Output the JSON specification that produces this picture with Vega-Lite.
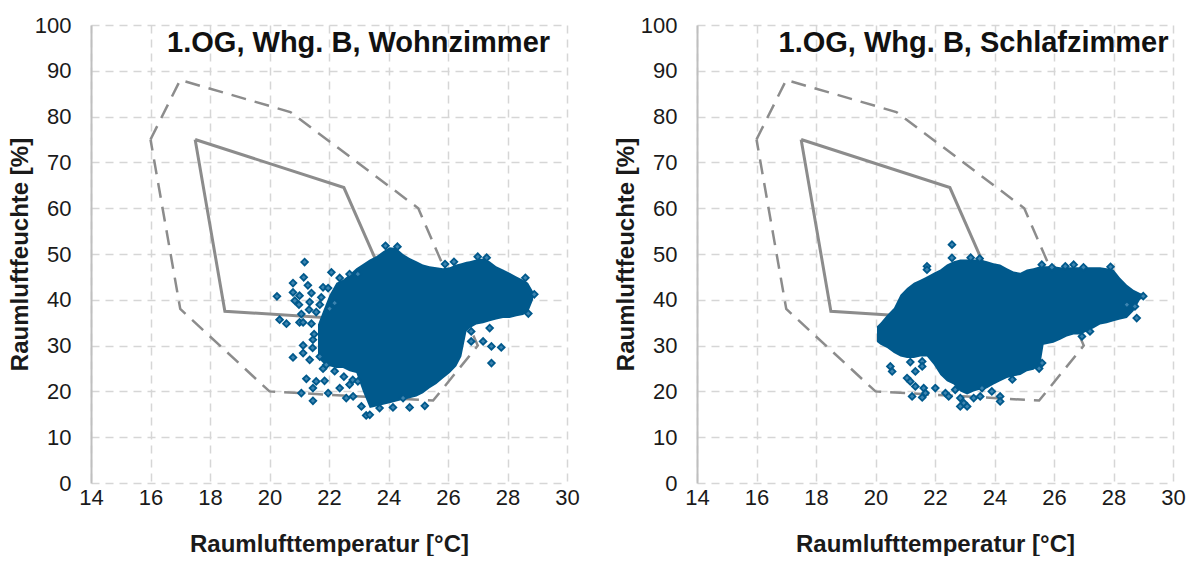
{
  "$schema": "https://vega.github.io/schema/vega-lite/v6.json",
  "padding": {"left": 8, "top": 14, "right": 5, "bottom": 0},
  "spacing": 34,
  "config": {
    "font": "Liberation Sans",
    "view": {"stroke": null},
    "axis": {
      "grid": true,
      "gridColor": "#d6d6d6",
      "gridDash": [8, 6],
      "gridWidth": 1.5,
      "ticks": false,
      "labelFlush": false,
      "labelFont": "Liberation Sans",
      "labelFontSize": 22,
      "labelColor": "#1a1a1a",
      "titleFont": "Liberation Sans",
      "titleFontSize": 24,
      "titleFontWeight": "bold",
      "titleColor": "#1a1a1a"
    },
    "axisX": {"domain": false, "labelPadding": 4, "titlePadding": 24},
    "axisY": {"domain": true, "domainColor": "#bfbfbf", "domainWidth": 2, "labelPadding": 20, "titlePadding": 2}
  },
  "datasets": {
    "zonen": [
      {"zone": "noch behaglich", "i": 0, "t": 16, "h": 75},
      {"zone": "noch behaglich", "i": 1, "t": 17, "h": 88},
      {"zone": "noch behaglich", "i": 2, "t": 20.7, "h": 81},
      {"zone": "noch behaglich", "i": 3, "t": 25, "h": 60},
      {"zone": "noch behaglich", "i": 4, "t": 27, "h": 30},
      {"zone": "noch behaglich", "i": 5, "t": 25.5, "h": 18},
      {"zone": "noch behaglich", "i": 6, "t": 20, "h": 20},
      {"zone": "noch behaglich", "i": 7, "t": 17, "h": 38},
      {"zone": "noch behaglich", "i": 8, "t": 16, "h": 75},
      {"zone": "behaglich", "i": 0, "t": 17.5, "h": 75},
      {"zone": "behaglich", "i": 1, "t": 22.5, "h": 64.5},
      {"zone": "behaglich", "i": 2, "t": 24.5, "h": 35},
      {"zone": "behaglich", "i": 3, "t": 18.5, "h": 37.5},
      {"zone": "behaglich", "i": 4, "t": 17.5, "h": 75}
    ],
    "titel_wohn": [{"titel": "1.OG, Whg. B, Wohnzimmer"}],
    "titel_schlaf": [{"titel": "1.OG, Whg. B, Schlafzimmer"}],
    "wohn_kern": [
      {"t": 21.63, "lo": 27.3, "hi": 34.6},
      {"t": 21.8, "lo": 26.2, "hi": 37.5},
      {"t": 22.02, "lo": 25.5, "hi": 41.1},
      {"t": 22.25, "lo": 25.1, "hi": 43.7},
      {"t": 22.47, "lo": 25.1, "hi": 44.4},
      {"t": 22.69, "lo": 24.4, "hi": 45.5},
      {"t": 22.92, "lo": 24.0, "hi": 46.9},
      {"t": 23.14, "lo": 20.0, "hi": 47.8},
      {"t": 23.37, "lo": 16.4, "hi": 48.8},
      {"t": 23.59, "lo": 16.7, "hi": 49.5},
      {"t": 23.82, "lo": 17.1, "hi": 50.6},
      {"t": 24.04, "lo": 17.4, "hi": 51.5},
      {"t": 24.26, "lo": 17.8, "hi": 51.3},
      {"t": 24.49, "lo": 18.2, "hi": 50.0},
      {"t": 24.71, "lo": 18.5, "hi": 49.1},
      {"t": 24.94, "lo": 18.9, "hi": 48.4},
      {"t": 25.16, "lo": 19.6, "hi": 47.7},
      {"t": 25.38, "lo": 20.7, "hi": 47.3},
      {"t": 25.61, "lo": 21.6, "hi": 47.1},
      {"t": 25.83, "lo": 22.8, "hi": 46.9},
      {"t": 26.06, "lo": 24.0, "hi": 47.1},
      {"t": 26.28, "lo": 25.5, "hi": 47.7},
      {"t": 26.45, "lo": 27.6, "hi": 48.0},
      {"t": 26.62, "lo": 33.1, "hi": 48.3},
      {"t": 26.73, "lo": 33.8, "hi": 48.4},
      {"t": 26.95, "lo": 34.6, "hi": 48.8},
      {"t": 27.18, "lo": 34.9, "hi": 49.0},
      {"t": 27.4, "lo": 35.3, "hi": 48.4},
      {"t": 27.62, "lo": 35.7, "hi": 47.3},
      {"t": 27.85, "lo": 36.0, "hi": 46.6},
      {"t": 28.07, "lo": 36.0, "hi": 45.9},
      {"t": 28.3, "lo": 36.4, "hi": 45.1},
      {"t": 28.52, "lo": 36.7, "hi": 44.4},
      {"t": 28.69, "lo": 37.3, "hi": 43.7},
      {"t": 28.86, "lo": 40.0, "hi": 41.8}
    ],
    "wohn_punkte": [
      {"t": 21.18, "h": 48.25}, {"t": 20.25, "h": 40.75}, {"t": 20.79, "h": 43.66}, {"t": 21.15, "h": 44.9},
      {"t": 21.29, "h": 43.15}, {"t": 22.08, "h": 45.99}, {"t": 21.8, "h": 42.72}, {"t": 21.97, "h": 42.57},
      {"t": 20.79, "h": 41.62}, {"t": 21.01, "h": 40.9}, {"t": 21.41, "h": 41.48}, {"t": 21.35, "h": 39.51},
      {"t": 21.74, "h": 40.53}, {"t": 20.85, "h": 39.8}, {"t": 20.99, "h": 38.93}, {"t": 21.33, "h": 37.84},
      {"t": 21.69, "h": 38.93}, {"t": 21.07, "h": 36.89}, {"t": 21.57, "h": 37.33}, {"t": 20.34, "h": 35.65},
      {"t": 20.57, "h": 34.78}, {"t": 21.01, "h": 35.07}, {"t": 21.13, "h": 35.07}, {"t": 21.41, "h": 34.78},
      {"t": 22.02, "h": 38.06}, {"t": 22.19, "h": 39.29}, {"t": 22.36, "h": 44.76}, {"t": 22.69, "h": 45.63},
      {"t": 22.97, "h": 45.63}, {"t": 21.13, "h": 30.04}, {"t": 21.46, "h": 31.28}, {"t": 20.79, "h": 27.42},
      {"t": 21.13, "h": 28.37}, {"t": 21.8, "h": 24.95}, {"t": 21.24, "h": 22.76}, {"t": 21.57, "h": 22.18},
      {"t": 21.85, "h": 22.32}, {"t": 21.46, "h": 20.72}, {"t": 21.07, "h": 19.63}, {"t": 21.46, "h": 17.95},
      {"t": 21.97, "h": 19.63}, {"t": 22.36, "h": 20.72}, {"t": 22.58, "h": 18.54}, {"t": 22.81, "h": 18.9},
      {"t": 23.09, "h": 16.72}, {"t": 23.25, "h": 14.75}, {"t": 23.37, "h": 14.89}, {"t": 23.7, "h": 16.35},
      {"t": 24.15, "h": 16.5}, {"t": 24.71, "h": 16.5}, {"t": 25.22, "h": 16.86}, {"t": 24.49, "h": 18.54},
      {"t": 26.78, "h": 30.92}, {"t": 27.18, "h": 30.92}, {"t": 27.46, "h": 29.83}, {"t": 27.79, "h": 29.61},
      {"t": 27.46, "h": 26.18}, {"t": 27.4, "h": 33.83}, {"t": 26.78, "h": 33.1}, {"t": 22.5, "h": 23.2},
      {"t": 22.8, "h": 22.5}, {"t": 25.9, "h": 47.8}, {"t": 26.2, "h": 48.3}, {"t": 27.0, "h": 49.4},
      {"t": 27.3, "h": 49.2}, {"t": 28.6, "h": 44.8}, {"t": 28.9, "h": 41.2}, {"t": 28.7, "h": 37.0},
      {"t": 23.9, "h": 51.8}, {"t": 24.3, "h": 51.6}, {"t": 21.35, "h": 26.9}, {"t": 21.69, "h": 27.6},
      {"t": 21.91, "h": 25.8}, {"t": 22.19, "h": 24.4}, {"t": 22.97, "h": 22.2}, {"t": 22.69, "h": 21.5},
      {"t": 21.5, "h": 32.5}, {"t": 21.45, "h": 29.5}
    ],
    "schlaf_kern": [
      {"t": 20.05, "lo": 30.8, "hi": 34.2},
      {"t": 20.17, "lo": 30.2, "hi": 35.0},
      {"t": 20.39, "lo": 29.5, "hi": 36.7},
      {"t": 20.62, "lo": 28.4, "hi": 38.2},
      {"t": 20.84, "lo": 27.6, "hi": 41.1},
      {"t": 21.06, "lo": 27.3, "hi": 42.6},
      {"t": 21.29, "lo": 27.3, "hi": 43.7},
      {"t": 21.51, "lo": 27.6, "hi": 44.4},
      {"t": 21.73, "lo": 27.6, "hi": 45.1},
      {"t": 21.96, "lo": 25.8, "hi": 45.9},
      {"t": 22.18, "lo": 23.6, "hi": 46.6},
      {"t": 22.4, "lo": 22.2, "hi": 47.7},
      {"t": 22.63, "lo": 21.5, "hi": 48.4},
      {"t": 22.85, "lo": 20.0, "hi": 48.8},
      {"t": 23.08, "lo": 19.3, "hi": 48.8},
      {"t": 23.3, "lo": 20.0, "hi": 48.8},
      {"t": 23.52, "lo": 20.4, "hi": 48.8},
      {"t": 23.75, "lo": 20.7, "hi": 48.4},
      {"t": 23.97, "lo": 21.5, "hi": 48.0},
      {"t": 24.19, "lo": 22.2, "hi": 47.7},
      {"t": 24.42, "lo": 22.9, "hi": 46.9},
      {"t": 24.64, "lo": 23.3, "hi": 46.2},
      {"t": 24.87, "lo": 23.6, "hi": 45.9},
      {"t": 25.09, "lo": 24.4, "hi": 46.6},
      {"t": 25.31, "lo": 24.7, "hi": 46.9},
      {"t": 25.54, "lo": 25.8, "hi": 47.3},
      {"t": 25.65, "lo": 30.2, "hi": 47.3},
      {"t": 25.98, "lo": 30.6, "hi": 47.3},
      {"t": 26.21, "lo": 31.3, "hi": 47.1},
      {"t": 26.43, "lo": 32.0, "hi": 47.1},
      {"t": 26.66, "lo": 32.4, "hi": 47.1},
      {"t": 26.88, "lo": 32.4, "hi": 47.1},
      {"t": 27.1, "lo": 33.1, "hi": 47.1},
      {"t": 27.33, "lo": 33.8, "hi": 47.1},
      {"t": 27.55, "lo": 34.6, "hi": 47.1},
      {"t": 27.77, "lo": 34.9, "hi": 46.9},
      {"t": 28.0, "lo": 35.3, "hi": 46.6},
      {"t": 28.22, "lo": 35.7, "hi": 44.8},
      {"t": 28.45, "lo": 36.0, "hi": 43.3},
      {"t": 28.67, "lo": 37.5, "hi": 42.2},
      {"t": 28.89, "lo": 40.0, "hi": 41.5},
      {"t": 29.06, "lo": 40.5, "hi": 41.1}
    ],
    "schlaf_punkte": [
      {"t": 22.57, "h": 52.04}, {"t": 22.57, "h": 49.13}, {"t": 21.73, "h": 47.31}, {"t": 21.73, "h": 46.58},
      {"t": 20.5, "h": 25.46}, {"t": 20.56, "h": 24.36}, {"t": 21.17, "h": 26.4}, {"t": 21.34, "h": 24.36},
      {"t": 21.57, "h": 26.55}, {"t": 21.57, "h": 25.46}, {"t": 21.06, "h": 22.91}, {"t": 21.17, "h": 22.18},
      {"t": 21.34, "h": 21.09}, {"t": 21.62, "h": 20.72}, {"t": 22.01, "h": 20.72}, {"t": 21.23, "h": 18.9},
      {"t": 21.57, "h": 18.68}, {"t": 21.68, "h": 19.63}, {"t": 22.35, "h": 19.63}, {"t": 22.46, "h": 18.9},
      {"t": 22.68, "h": 20.36}, {"t": 22.85, "h": 18.54}, {"t": 22.97, "h": 17.44}, {"t": 22.85, "h": 16.72},
      {"t": 23.08, "h": 16.72}, {"t": 23.3, "h": 18.54}, {"t": 23.52, "h": 18.9}, {"t": 23.58, "h": 20.72},
      {"t": 24.19, "h": 18.9}, {"t": 24.19, "h": 17.81}, {"t": 23.91, "h": 19.99}, {"t": 25.59, "h": 47.67},
      {"t": 25.93, "h": 47.09}, {"t": 26.38, "h": 47.31}, {"t": 26.66, "h": 47.67}, {"t": 26.99, "h": 47.09},
      {"t": 27.21, "h": 33.1}, {"t": 26.94, "h": 32.01}, {"t": 28.45, "h": 38.93}, {"t": 28.72, "h": 38.56},
      {"t": 28.78, "h": 36.02}, {"t": 25.5, "h": 25.0}, {"t": 25.6, "h": 26.2}, {"t": 24.6, "h": 22.6},
      {"t": 23.2, "h": 49.2}, {"t": 23.5, "h": 49.0}, {"t": 27.9, "h": 47.2}, {"t": 29.0, "h": 40.8}
    ]
  },
  "hconcat": [
    {
      "width": 476,
      "height": 458,
      "layer": [
        {
          "data": {"name": "zonen"},
          "transform": [{"filter": "datum.zone === 'noch behaglich'"}],
          "mark": {"type": "line", "color": "#8c8c8c", "strokeWidth": 2.5, "strokeDash": [15, 9]},
          "encoding": {
            "x": {"field": "t", "type": "quantitative", "scale": {"domain": [14, 30], "nice": false, "zero": false}, "axis": {"title": "Raumlufttemperatur [°C]", "values": [14, 16, 18, 20, 22, 24, 26, 28, 30]}},
            "y": {"field": "h", "type": "quantitative", "scale": {"domain": [0, 100], "nice": false}, "axis": {"title": "Raumluftfeuchte [%]", "values": [0, 10, 20, 30, 40, 50, 60, 70, 80, 90, 100]}},
            "order": {"field": "i"}
          }
        },
        {
          "data": {"name": "zonen"},
          "transform": [{"filter": "datum.zone === 'behaglich'"}],
          "mark": {"type": "line", "color": "#8c8c8c", "strokeWidth": 3},
          "encoding": {
            "x": {"field": "t", "type": "quantitative"},
            "y": {"field": "h", "type": "quantitative"},
            "order": {"field": "i"}
          }
        },
        {
          "data": {"name": "wohn_kern"},
          "mark": {"type": "area", "color": "#00598c", "opacity": 1},
          "encoding": {
            "x": {"field": "t", "type": "quantitative"},
            "y": {"field": "lo", "type": "quantitative"},
            "y2": {"field": "hi"}
          }
        },
        {
          "data": {"name": "wohn_punkte"},
          "mark": {"type": "point", "shape": "diamond", "filled": true, "size": 45, "fill": "#3d84b0", "stroke": "#00598c", "strokeWidth": 1.8, "opacity": 1},
          "encoding": {
            "x": {"field": "t", "type": "quantitative"},
            "y": {"field": "h", "type": "quantitative"}
          }
        },
        {
          "data": {"name": "titel_wohn"},
          "mark": {"type": "text", "align": "right", "baseline": "alphabetic", "font": "Liberation Sans", "fontSize": 29, "fontWeight": "bold", "color": "#111111"},
          "encoding": {
            "x": {"datum": 29.43, "type": "quantitative"},
            "y": {"datum": 94, "type": "quantitative"},
            "text": {"field": "titel"}
          }
        }
      ]
    },
    {
      "width": 476,
      "height": 458,
      "layer": [
        {
          "data": {"name": "zonen"},
          "transform": [{"filter": "datum.zone === 'noch behaglich'"}],
          "mark": {"type": "line", "color": "#8c8c8c", "strokeWidth": 2.5, "strokeDash": [15, 9]},
          "encoding": {
            "x": {"field": "t", "type": "quantitative", "scale": {"domain": [14, 30], "nice": false, "zero": false}, "axis": {"title": "Raumlufttemperatur [°C]", "values": [14, 16, 18, 20, 22, 24, 26, 28, 30]}},
            "y": {"field": "h", "type": "quantitative", "scale": {"domain": [0, 100], "nice": false}, "axis": {"title": "Raumluftfeuchte [%]", "values": [0, 10, 20, 30, 40, 50, 60, 70, 80, 90, 100]}},
            "order": {"field": "i"}
          }
        },
        {
          "data": {"name": "zonen"},
          "transform": [{"filter": "datum.zone === 'behaglich'"}],
          "mark": {"type": "line", "color": "#8c8c8c", "strokeWidth": 3},
          "encoding": {
            "x": {"field": "t", "type": "quantitative"},
            "y": {"field": "h", "type": "quantitative"},
            "order": {"field": "i"}
          }
        },
        {
          "data": {"name": "schlaf_kern"},
          "mark": {"type": "area", "color": "#00598c", "opacity": 1},
          "encoding": {
            "x": {"field": "t", "type": "quantitative"},
            "y": {"field": "lo", "type": "quantitative"},
            "y2": {"field": "hi"}
          }
        },
        {
          "data": {"name": "schlaf_punkte"},
          "mark": {"type": "point", "shape": "diamond", "filled": true, "size": 45, "fill": "#3d84b0", "stroke": "#00598c", "strokeWidth": 1.8, "opacity": 1},
          "encoding": {
            "x": {"field": "t", "type": "quantitative"},
            "y": {"field": "h", "type": "quantitative"}
          }
        },
        {
          "data": {"name": "titel_schlaf"},
          "mark": {"type": "text", "align": "right", "baseline": "alphabetic", "font": "Liberation Sans", "fontSize": 29, "fontWeight": "bold", "color": "#111111"},
          "encoding": {
            "x": {"datum": 29.85, "type": "quantitative"},
            "y": {"datum": 94, "type": "quantitative"},
            "text": {"field": "titel"}
          }
        }
      ]
    }
  ]
}
